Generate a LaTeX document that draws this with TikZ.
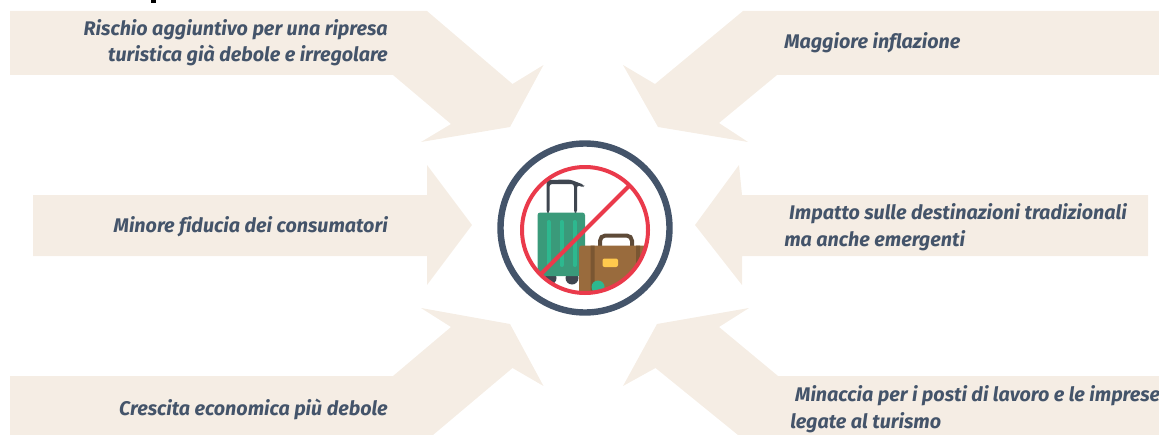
\documentclass[tikz,border=0pt]{standalone}
\usepackage{fontspec}
\setmainfont{Fira Sans}[Ligatures=NoCommon]
\usepackage{xcolor}
\definecolor{sandFill}{HTML}{F5EDE4}
\definecolor{slateBlue}{HTML}{44546A}
\definecolor{banRed}{HTML}{EA3A4B}
\definecolor{caseGreen}{HTML}{3A9A7A}
\definecolor{stripeGreen}{HTML}{2DB88F}
\definecolor{handleGray}{HTML}{3F4650}
\definecolor{caseBrown}{HTML}{996B3D}
\definecolor{bandBrown}{HTML}{7A5632}
\definecolor{gripBrown}{HTML}{5E4A38}
\definecolor{claspYellow}{HTML}{FFC94D}
\tikzset{
    bigarrow/.style={fill=sandFill},
    cause/.style={
        font=\fontsize{14.8}{20}\selectfont\bfseries\itshape,
        text=slateBlue,
        inner sep=0pt
    }
}

\begin{document}
\begin{tikzpicture}[x=0.75pt,y=-0.75pt]
    \useasboundingbox (0,0) rectangle (1159,435);
    \fill (150.5,0) rectangle (155.5,3.5);

    \fill[bigarrow] (10,11) -- (427,11) -- (512.5,84) -- (543.5,65) -- (510,127) -- (421,142) -- (451,124) -- (393,75) -- (10,75) -- cycle;
    \fill[bigarrow] (1159,11) -- (743,11) -- (655,84) -- (623,65) -- (658,127) -- (748,142) -- (719,123) -- (777,75) -- (1159,75) -- cycle;
    \fill[bigarrow] (33,195) -- (427,195) -- (427,165) -- (472,225) -- (427,285) -- (427,256) -- (33,256) -- cycle;
    \fill[bigarrow] (1148,195) -- (742,195) -- (739,165) -- (695,225) -- (742,285) -- (742,256) -- (1148,256) -- cycle;
    \fill[bigarrow] (10,376) -- (393,376) -- (451,327) -- (421,308) -- (510,324) -- (543.5,386) -- (512.5,368) -- (433,435) -- (10,435) -- cycle;
    \fill[bigarrow] (1159,376) -- (778,376) -- (719,327) -- (749,308) -- (657,324) -- (623,386) -- (655.5,368) -- (738,435) -- (1159,435) -- cycle;

    \node[cause, align=right, anchor=base east] (rischio) at (388,62)
        {Rischio aggiuntivo per una ripresa\\turistica già debole e irregolare};
    \node[cause, anchor=base west] (inflazione) at (784,49) {Maggiore inflazione};
    \node[cause, anchor=base east] (fiducia) at (388,232) {Minore fiducia dei consumatori};
    \node[cause, align=left, anchor=base west] (impatto) at (784,246)
        {\hspace{3.7pt}Impatto sulle destinazioni tradizionali\\ma anche emergenti};
    \node[cause, anchor=base east] (crescita) at (388,415) {Crescita economica più debole};
    \node[cause, align=left, anchor=base west] (minaccia) at (790,428)
        {\hspace{3.7pt}Minaccia per i posti di lavoro e le imprese\\legate al turismo};

    % icon
    \begin{scope}
        \clip (585,230) circle (63);
        \fill[handleGray, rounded corners=2pt] (546.5,213) -- (546.5,180) -- (570,179.5) -- (584.5,185) -- (583.5,187.5) -- (577,185) -- (577,213) -- (574,213) -- (574,184) -- (549.5,184) -- (549.5,213) -- cycle;
        \fill[handleGray] (550,278) circle (6.5) (572,278) circle (6.5);
        \fill[caseGreen, rounded corners=2pt] (537.5,212.5) rectangle (585,276);
        \foreach \stripex in {548.5,561.5,574.5}
            \draw[stripeGreen, line width=3pt, line cap=round] (\stripex,222) -- (\stripex,265);
        \draw[gripBrown, line width=3pt, rounded corners=4pt] (600,247) -- (600,235.5) -- (632,235.5) -- (632,247);
        \fill[caseBrown, rounded corners=2pt] (579,245.5) rectangle (650,300);
        \fill[bandBrown] (590.5,245.5) rectangle (594.5,300) (636,245.5) rectangle (640,300);
        \fill[claspYellow, rounded corners=1.5pt] (602.5,258.5) rectangle (618,267);
        \fill[stripeGreen] (598,287) circle (6.5);
    \end{scope}
    \draw[banRed, line width=3pt] (585,230) circle (63);
    \draw[banRed, line width=3pt] (541.5,273.5) -- (628.5,186.5);
    \draw[slateBlue, line width=4.8pt] (585,228) circle (84.5);
\end{tikzpicture}
\end{document}
